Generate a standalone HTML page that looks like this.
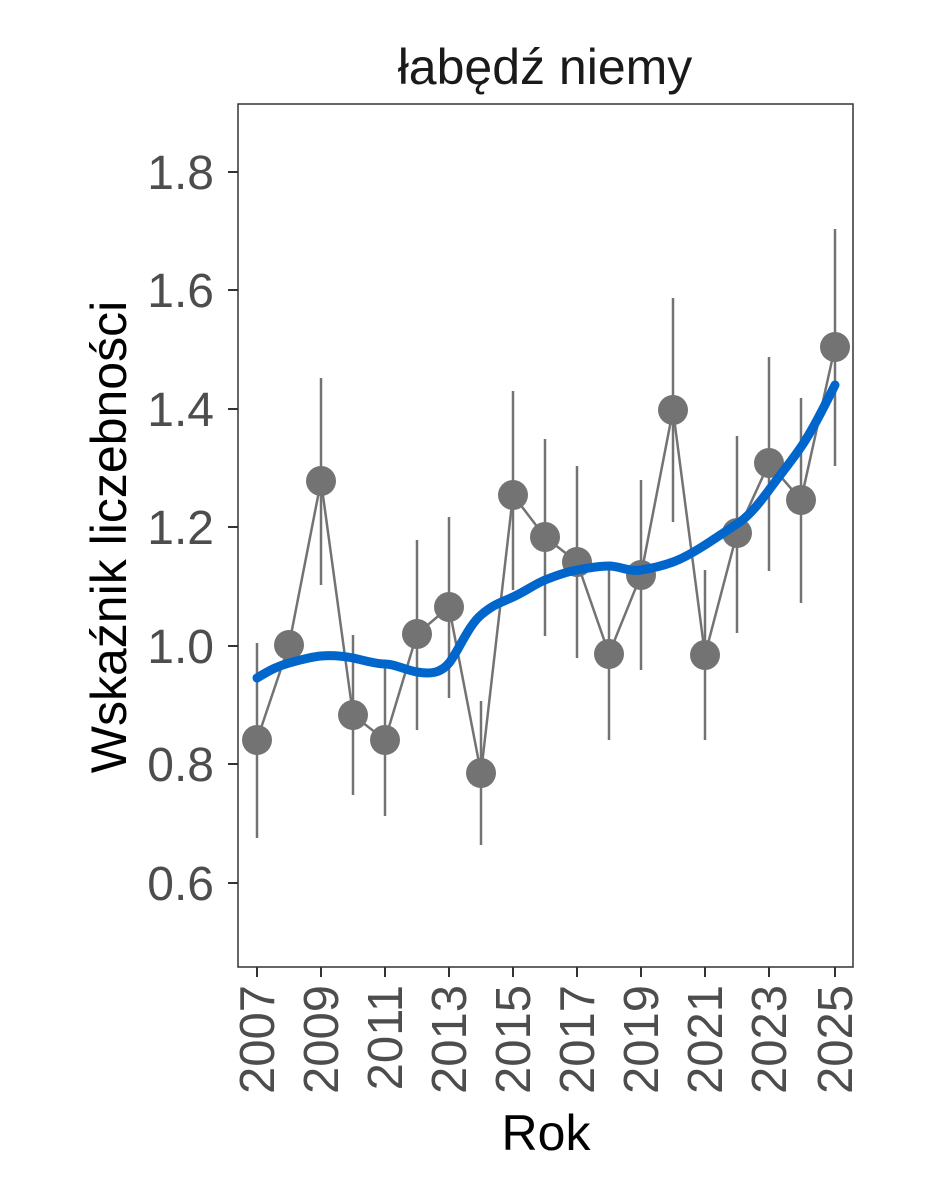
<!DOCTYPE html>
<html><head><meta charset="utf-8"><style>body{margin:0;background:#fff}</style></head>
<body>
<svg width="944" height="1181" xmlns="http://www.w3.org/2000/svg" font-family="Liberation Sans, DejaVu Sans, sans-serif">
<rect width="944" height="1181" fill="#fff"/>
<text x="545" y="84" font-size="50" text-anchor="middle" fill="#1a1a1a">łabędź niemy</text>
<rect x="238" y="104" width="615" height="863" fill="none" stroke="#333" stroke-width="1.5"/>
<g font-size="48" fill="#4d4d4d" text-anchor="end">
<text x="214" y="189">1.8</text><text x="214" y="307">1.6</text><text x="214" y="426">1.4</text>
<text x="214" y="544">1.2</text><text x="214" y="663">1.0</text><text x="214" y="781">0.8</text><text x="214" y="900">0.6</text>
</g>
<g stroke="#333" stroke-width="2">
<line x1="228" y1="172" x2="238" y2="172"/><line x1="228" y1="290" x2="238" y2="290"/><line x1="228" y1="409" x2="238" y2="409"/>
<line x1="228" y1="527" x2="238" y2="527"/><line x1="228" y1="646" x2="238" y2="646"/><line x1="228" y1="764" x2="238" y2="764"/><line x1="228" y1="883" x2="238" y2="883"/>
<line x1="257" y1="967" x2="257" y2="977"/><line x1="321" y1="967" x2="321" y2="977"/><line x1="385" y1="967" x2="385" y2="977"/>
<line x1="449" y1="967" x2="449" y2="977"/><line x1="513" y1="967" x2="513" y2="977"/><line x1="577" y1="967" x2="577" y2="977"/>
<line x1="641" y1="967" x2="641" y2="977"/><line x1="705" y1="967" x2="705" y2="977"/><line x1="769" y1="967" x2="769" y2="977"/><line x1="835" y1="967" x2="835" y2="977"/>
</g>
<g font-size="49" fill="#4d4d4d" text-anchor="end">
<text transform="translate(274,985) rotate(-90)">2007</text>
<text transform="translate(338,985) rotate(-90)">2009</text>
<text transform="translate(402,985) rotate(-90)">2011</text>
<text transform="translate(466,985) rotate(-90)">2013</text>
<text transform="translate(530,985) rotate(-90)">2015</text>
<text transform="translate(594,985) rotate(-90)">2017</text>
<text transform="translate(658,985) rotate(-90)">2019</text>
<text transform="translate(722,985) rotate(-90)">2021</text>
<text transform="translate(786,985) rotate(-90)">2023</text>
<text transform="translate(852,985) rotate(-90)">2025</text>
</g>
<text x="546" y="1150" font-size="50" text-anchor="middle" fill="#000">Rok</text>
<text transform="translate(126,537) rotate(-90)" font-size="50" text-anchor="middle" fill="#000">Wskaźnik liczebności</text>
<g stroke="#737373" stroke-width="2.5">
<line x1="257" y1="643" x2="257" y2="838"/><line x1="321" y1="378" x2="321" y2="585"/><line x1="353" y1="635" x2="353" y2="795"/>
<line x1="385" y1="668" x2="385" y2="816"/><line x1="417" y1="540" x2="417" y2="730"/><line x1="449" y1="517" x2="449" y2="698"/>
<line x1="481" y1="701" x2="481" y2="845"/><line x1="513" y1="391" x2="513" y2="590"/><line x1="545" y1="439" x2="545" y2="636"/>
<line x1="577" y1="466" x2="577" y2="658"/><line x1="609" y1="568" x2="609" y2="740"/><line x1="641" y1="480" x2="641" y2="670"/>
<line x1="673" y1="298" x2="673" y2="522"/><line x1="705" y1="570" x2="705" y2="740"/><line x1="737" y1="436" x2="737" y2="633"/>
<line x1="769" y1="357" x2="769" y2="571"/><line x1="801" y1="398" x2="801" y2="603"/><line x1="835" y1="229" x2="835" y2="466"/>
</g>
<polyline fill="none" stroke="#737373" stroke-width="2.5" points="257,740 289,645 321,481 353,715 385,740 417,634 449,607 481,773 513,495 545,537 577,562 609,654 641,575 673,410 705,655 737,533 769,463 801,500 835,347"/>
<g fill="#737373">
<circle cx="257" cy="740" r="15"/><circle cx="289" cy="645" r="15"/><circle cx="321" cy="481" r="15"/><circle cx="353" cy="715" r="15"/>
<circle cx="385" cy="740" r="15"/><circle cx="417" cy="634" r="15"/><circle cx="449" cy="607" r="15"/><circle cx="481" cy="773" r="15"/>
<circle cx="513" cy="495" r="15"/><circle cx="545" cy="537" r="15"/><circle cx="577" cy="562" r="15"/><circle cx="609" cy="654" r="15"/>
<circle cx="641" cy="575" r="15"/><circle cx="673" cy="410" r="15"/><circle cx="705" cy="655" r="15"/><circle cx="737" cy="533" r="15"/>
<circle cx="769" cy="463" r="15"/><circle cx="801" cy="500" r="15"/><circle cx="835" cy="347" r="15"/>
</g>
<path fill="none" stroke="#0066cc" stroke-width="9" stroke-linecap="round" stroke-linejoin="round" d="M257,678 C270,670 278,666 289,663 S310,657 321,656 S343,656 353,658 S375,664 385,664 S405,670 417,672 S440,674 449,663 S468,626 481,615 S500,603 513,597 S535,584 545,580 S566,572 577,570 S598,566 609,566 S628,572 641,570 S662,566 673,562 S694,552 705,545 S726,531 737,524 S758,505 769,490 S790,463 801,447 S825,405 835,385"/>
</svg>
</body></html>
